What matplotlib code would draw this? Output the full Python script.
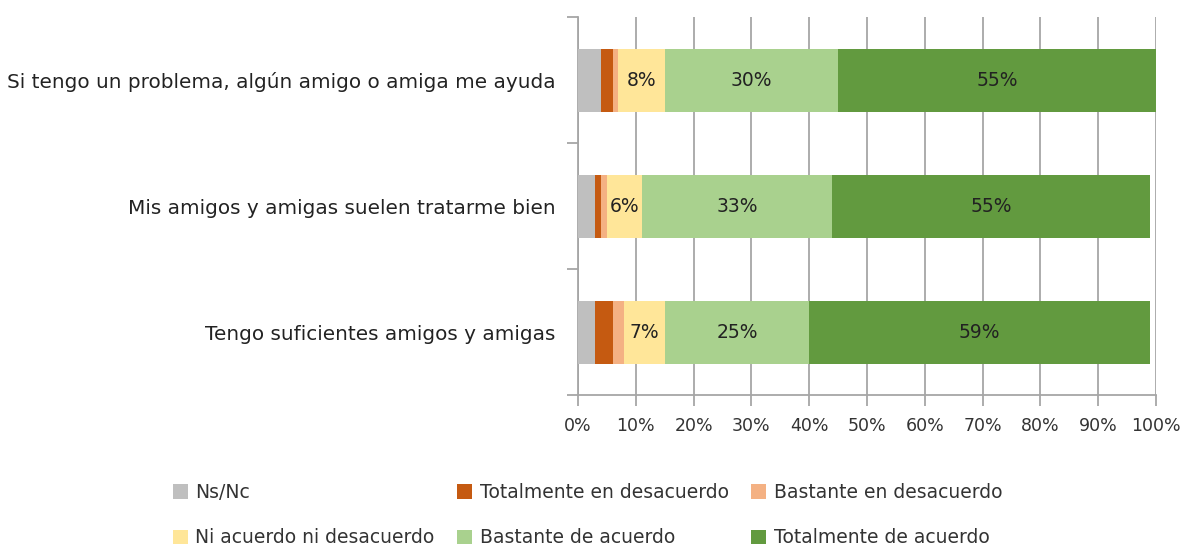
import numpy as np
import matplotlib.pyplot as plt

items = ["Si tengo un problema, algún amigo o amiga me ayuda",
         "Mis amigos y amigas suelen tratarme bien",
         "Tengo suficientes amigos y amigas"]
series = ["Ns/Nc", "Totalmente en desacuerdo", "Bastante en desacuerdo",
          "Ni acuerdo ni desacuerdo", "Bastante de acuerdo", "Totalmente de acuerdo"]
ns_nc = [4, 3, 3]
tot_desac = [2, 1, 3]
bast_desac = [1, 1, 2]
ni_ni = [8, 6, 7]
bast_ac = [30, 33, 25]
tot_ac = [55, 55, 59]
colors = ["#BFBFBF", "#C55A11", "#F4B183", "#FFE699", "#A9D18E", "#629A3F"]
labelled = [3, 4, 5]  # segments that carry a value label

values = np.array([ns_nc, tot_desac, bast_desac, ni_ni, bast_ac, tot_ac], dtype=float)

plt.rcParams['font.family'] = ['DejaVu Sans']
fig = plt.figure(figsize=(11.82, 5.47), dpi=100)
ax = fig.add_axes([578 / 1182, 1 - 395 / 547, 578 / 1182, 378 / 547])

y = np.arange(len(items))
left = np.zeros(len(items))
handles = []
for i, (name, vals) in enumerate(zip(series, values)):
    b = ax.barh(y, vals, left=left, height=0.5, color=colors[i], label=name, zorder=3)
    handles.append(b)
    if i in labelled:
        for yy, l, v in zip(y, left, vals):
            ax.text(l + v / 2, yy, f"{v:.0f}%", ha='center', va='center',
                    fontsize=13.5, color='#222222', zorder=4)
    left += vals

ax.set_xlim(0, 100)
ax.set_ylim(len(items) - 0.5, -0.5)
ax.set_xticks(np.arange(0, 101, 10))
ax.set_xticklabels([f"{t}%" for t in range(0, 101, 10)], fontsize=12.5, color='#333333')
ax.xaxis.grid(True, color='#A6A6A6', linewidth=1.3, zorder=0)

# category labels in the middle, tick marks on the boundaries
ax.set_yticks(np.arange(-0.5, len(items), 1.0))
ax.set_yticklabels([])
ax.set_yticks(y, minor=True)
ax.set_yticklabels(items, minor=True, fontsize=14.4, color='#222222')
ax.tick_params(axis='y', which='minor', length=0, pad=16)
ax.tick_params(axis='y', which='major', length=8, color='#A6A6A6', width=1.3)
ax.tick_params(axis='x', length=8, color='#A6A6A6', width=1.3, pad=8)

for s in ['top', 'right']:
    ax.spines[s].set_visible(False)
for s in ['left', 'bottom']:
    ax.spines[s].set_color('#A6A6A6')
    ax.spines[s].set_linewidth(1.3)

# legend filled column by column: reorder so rows read as in the series list
order = [0, 3, 1, 4, 2, 5]
fig.legend([handles[k] for k in order], [series[k] for k in order],
           loc='center', bbox_to_anchor=(0.497, 0.058), ncol=3, frameon=False,
           fontsize=13.5, handlelength=0.8, handleheight=0.8, handletextpad=0.4,
           columnspacing=1.2, labelspacing=1.4, labelcolor='#333333')

fig.savefig("out.png", dpi=100)
